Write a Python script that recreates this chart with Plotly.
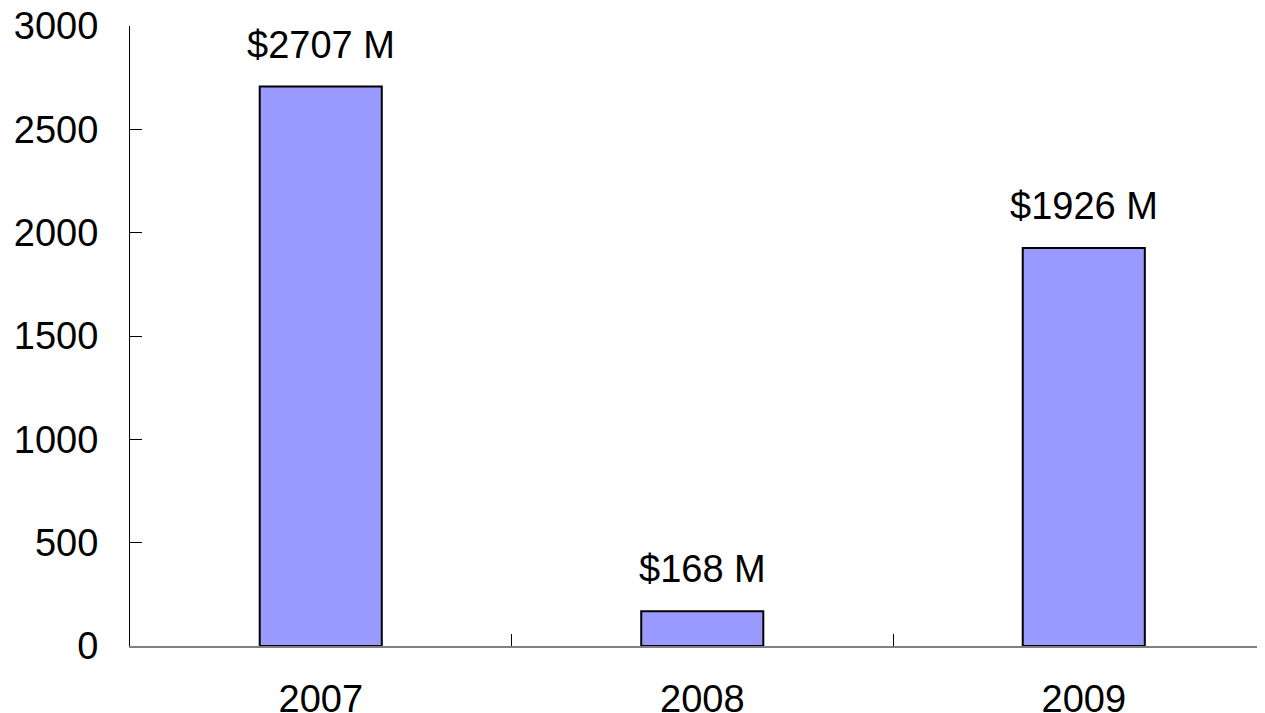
import plotly.graph_objects as go

years = ["2007", "2008", "2009"]
values = [2707, 168, 1926]
labels = ["$2707 M", "$168 M", "$1926 M"]
y_ticks = [0, 500, 1000, 1500, 2000, 2500, 3000]

FONT = "Liberation Sans, Arial, sans-serif"

fig = go.Figure()
fig.add_trace(go.Bar(
    x=years, y=values, width=0.32,
    marker=dict(color="#9999FF", line=dict(color="black", width=2)),
    hoverinfo="skip",
))

for i, (v, t) in enumerate(zip(values, labels)):
    fig.add_annotation(x=i, y=v, xref="x", yref="y", text=t, showarrow=False,
                       yanchor="bottom", yshift=19,
                       font=dict(family=FONT, size=38, color="black"))

fig.update_layout(
    width=1265, height=713,
    margin=dict(l=122, r=8, t=18, b=75, autoexpand=False),
    paper_bgcolor="white", plot_bgcolor="white",
    showlegend=False,
    font=dict(family=FONT, size=38, color="black"),
    xaxis=dict(
        type="category", range=[-0.5, 2.475], automargin=False,
        tickson="boundaries", ticks="inside", ticklen=12, tickcolor="black", tickwidth=1,
        showline=True, linecolor="#808080", linewidth=1.5,
        showgrid=False, zeroline=False,
        ticklabelstandoff=19, ticklabeloverflow="allow",
    ),
    yaxis=dict(
        range=[0, 3000], tickvals=y_ticks, automargin=False,
        ticks="inside", ticklen=12, tickcolor="black", tickwidth=1,
        showline=True, linecolor="black", linewidth=1,
        showgrid=False, zeroline=False,
        ticklabelstandoff=23, ticklabeloverflow="allow",
    ),
)

fig.write_html("out.html")
